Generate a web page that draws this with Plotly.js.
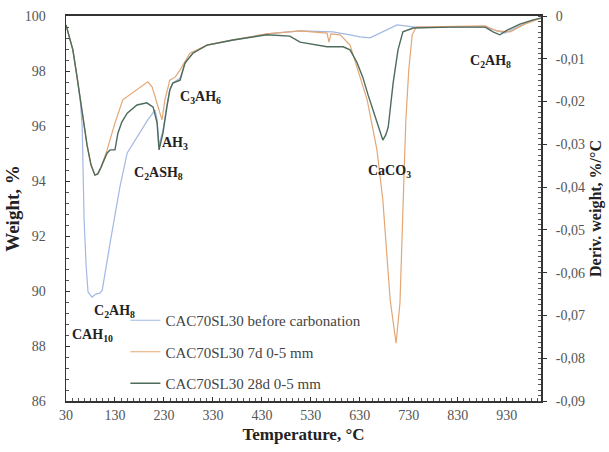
<!DOCTYPE html>
<html>
<head>
<meta charset="utf-8">
<script src="https://cdn.plot.ly/plotly-3.0.1.min.js"></script>
<style>html,body{margin:0;padding:0;background:#fff;}#chart{width:609px;height:452px;}</style>
</head>
<body>
<div id="chart"></div>
<script>
// Temperature (°C) and derivative weight (%/°C)
var tempBefore = [30,38,44,52,59,63,65,67,71,75,83,91,99,104,120,140,155,175,197,212,216,220,228,236,242,248,263,273,289,318,371,440,508,575,610,630,651,677,706,743,886,906,927,947,978,1000];
var dtgBefore  = [-0.0021,-0.0051,-0.0079,-0.0138,-0.0196,-0.0255,-0.0360,-0.0477,-0.0582,-0.0645,-0.0657,-0.0650,-0.0648,-0.0641,-0.0531,-0.0400,-0.0320,-0.0283,-0.0243,-0.0220,-0.0243,-0.0302,-0.0267,-0.0208,-0.0173,-0.0157,-0.0145,-0.0110,-0.0087,-0.0068,-0.0056,-0.0042,-0.0035,-0.0037,-0.0044,-0.0049,-0.0051,-0.0037,-0.0021,-0.0026,-0.0026,-0.0033,-0.0040,-0.0028,-0.0012,-0.0005];

var temp7d = [30,38,44,52,59,67,73,81,89,95,101,114,130,146,175,197,206,216,226,232,242,253,263,283,318,371,440,508,563,567,571,590,610,624,645,665,677,692,704,712,716,720,724,730,737,745,886,910,937,967,1000];
var dtg7d  = [-0.0021,-0.0051,-0.0079,-0.0138,-0.0196,-0.0262,-0.0302,-0.0348,-0.0372,-0.0369,-0.0355,-0.0313,-0.0250,-0.0196,-0.0173,-0.0154,-0.0166,-0.0203,-0.0243,-0.0196,-0.0150,-0.0143,-0.0126,-0.0087,-0.0068,-0.0056,-0.0042,-0.0035,-0.0040,-0.0061,-0.0042,-0.0044,-0.0068,-0.0119,-0.0196,-0.0313,-0.0430,-0.0664,-0.0765,-0.0671,-0.0547,-0.0383,-0.0243,-0.0126,-0.0044,-0.0026,-0.0023,-0.0035,-0.0037,-0.0019,-0.0005];

var temp28d = [30,38,44,52,59,67,73,81,89,95,101,114,120,130,136,144,155,175,195,208,216,220,228,236,242,248,263,273,289,318,371,440,487,508,563,596,610,624,636,647,657,671,677,683,688,698,708,718,739,814,886,902,916,931,957,984,1000];
var dtg28d  = [-0.0021,-0.0051,-0.0079,-0.0138,-0.0196,-0.0262,-0.0302,-0.0348,-0.0372,-0.0369,-0.0355,-0.0320,-0.0313,-0.0313,-0.0274,-0.0248,-0.0227,-0.0208,-0.0203,-0.0213,-0.0250,-0.0313,-0.0274,-0.0213,-0.0173,-0.0157,-0.0150,-0.0110,-0.0087,-0.0068,-0.0056,-0.0044,-0.0047,-0.0061,-0.0072,-0.0072,-0.0079,-0.0108,-0.0143,-0.0185,-0.0220,-0.0274,-0.0290,-0.0278,-0.0260,-0.0157,-0.0079,-0.0037,-0.0028,-0.0026,-0.0026,-0.0037,-0.0044,-0.0033,-0.0019,-0.0009,-0.0005];

var seriesNames = ['CAC70SL30 before carbonation','CAC70SL30 7d 0-5 mm','CAC70SL30 28d 0-5 mm'];

var xTickVals = [30,130,230,330,430,530,630,730,830,930];
var y2TickVals = [0,-0.01,-0.02,-0.03,-0.04,-0.05,-0.06,-0.07,-0.08,-0.09];
var y2TickText = ['0','-0,01','-0,02','-0,03','-0,04','-0,05','-0,06','-0,07','-0,08','-0,09'];

var phaseLabels = ['C<sub>3</sub>AH<sub>6</sub>','AH<sub>3</sub>','C<sub>2</sub>ASH<sub>8</sub>','C<sub>2</sub>AH<sub>8</sub>','CAH<sub>10</sub>','CaCO<sub>3</sub>','C<sub>2</sub>AH<sub>8</sub>'];
var phaseT = [304,253,218,130,85,690,896];
var phaseW = [97.05,95.38,94.29,89.27,88.4,94.33,98.33];

var serif = 'Liberation Serif, Times New Roman, serif';
var traces = [
  {x:[null], y:[null], xaxis:'x', yaxis:'y', showlegend:false, hoverinfo:'skip', mode:'lines'},
  {x:tempBefore, y:dtgBefore, yaxis:'y2', mode:'lines', name:seriesNames[0], legendgroup:'a', line:{color:'#a3b8e2', width:1.2}},
  {x:temp7d, y:dtg7d, yaxis:'y2', mode:'lines', name:seriesNames[1], legendgroup:'b', line:{color:'#e3a775', width:1.2}},
  {x:temp28d, y:dtg28d, yaxis:'y2', mode:'lines', name:seriesNames[2], legendgroup:'c', line:{color:'#4e6b5b', width:1.4}}
];

var annotations = phaseLabels.map(function(t,i){
  return {text:'<b>'+t+'</b>', x:phaseT[i], y:phaseW[i], xref:'x', yref:'y', showarrow:false,
          font:{family:serif, size:14, color:'#222'}, xanchor:'center', yanchor:'middle'};
});

var layout = {
  width:609, height:452,
  margin:{l:66, r:68, t:16, b:51},
  paper_bgcolor:'#fff', plot_bgcolor:'#fff',
  showlegend:true,
  legend:{x:0.125, y:0.252, xanchor:'left', yanchor:'top', bgcolor:'rgba(0,0,0,0)',
          font:{family:serif, size:15, color:'#444'}, traceorder:'grouped', tracegroupgap:9},
  xaxis:{range:[30,1000], tickvals:xTickVals, showgrid:false, zeroline:false,
         showline:true, mirror:true, linecolor:'#333', linewidth:2,
         ticks:'inside', ticklen:4, tickcolor:'#333',
         minor:{dtick:12.5, tick0:30, ticks:'inside', ticklen:3, tickcolor:'#555'},
         tickfont:{family:serif, size:14, color:'#555'},
         title:{text:'<b>Temperature, °C</b>', font:{family:serif, size:17, color:'#222'}, standoff:6}},
  yaxis:{range:[86,100], dtick:2, showgrid:false, zeroline:false,
         showline:true, linecolor:'#333', linewidth:1.5,
         ticks:'inside', ticklen:4, tickcolor:'#333',
         minor:{dtick:0.4, ticks:'inside', ticklen:3, tickcolor:'#555'},
         tickfont:{family:serif, size:14, color:'#555'}, ticklabelstandoff:16,
         title:{text:'<b>Weight, %</b>', font:{family:serif, size:19, color:'#222'}, standoff:0}},
  yaxis2:{range:[-0.09,0], overlaying:'y', side:'right', tickvals:y2TickVals, ticktext:y2TickText,
          showgrid:false, zeroline:false, showline:true, linecolor:'#333', linewidth:2,
          ticks:'outside', ticklen:4, tickcolor:'#333',
          minor:{dtick:0.00125, ticks:'inside', ticklen:3, tickcolor:'#555'},
          tickfont:{family:serif, size:14, color:'#555'}, ticklabelstandoff:6,
          title:{text:'<b>Deriv. weight, %/°C</b>', font:{family:serif, size:16, color:'#222'}, standoff:6}},
  annotations:annotations
};

Plotly.newPlot('chart', traces, layout, {displayModeBar:false, staticPlot:true});
</script>
</body>
</html>
